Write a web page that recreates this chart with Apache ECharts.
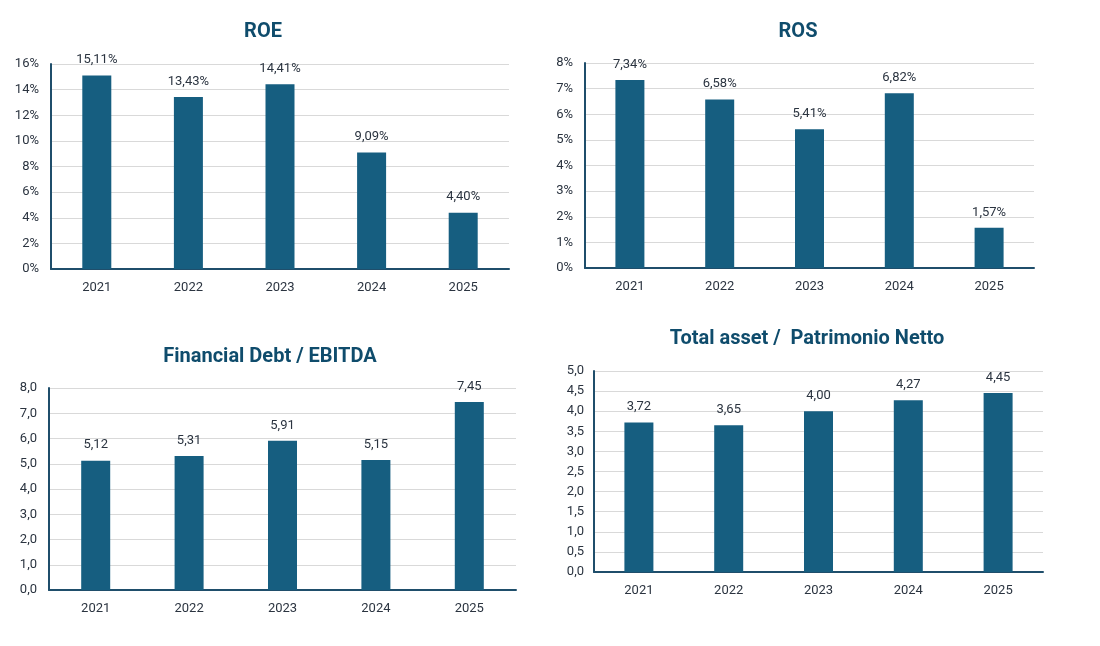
<!DOCTYPE html>
<html>
<head>
<meta charset="utf-8">
<script src="https://cdn.jsdelivr.net/npm/echarts@6/dist/echarts.min.js"></script>
<style>html,body{margin:0;padding:0;background:#fff;}#c{width:1100px;height:646px;}</style>
</head>
<body>
<div id="c"></div>
<script>
const years = ['2021', '2022', '2023', '2024', '2025'];
const roe = [15.11, 13.43, 14.41, 9.09, 4.40];
const ros = [7.34, 6.58, 5.41, 6.82, 1.57];
const debtEbitda = [5.12, 5.31, 5.91, 5.15, 7.45];
const assetEquity = [3.72, 3.65, 4.00, 4.27, 4.45];
const titles = ['ROE', 'ROS', 'Financial Debt / EBITDA', 'Total asset /  Patrimonio Netto'];

const FONT = '"Liberation Sans Narrow", "Roboto", sans-serif';
const BAR = '#165e80';
const AXIS = '#1f4e6b';
const TXT = '#2b3440';
const comma = (v, d) => v.toFixed(d).replace('.', ',');

const grids = [
  {left: 51, top: 64, width: 458, height: 205},
  {left: 585, top: 63, width: 449, height: 205},
  {left: 49, top: 388, width: 467, height: 202},
  {left: 594, top: 371, width: 449, height: 201}
];
const yCfg = [
  {max: 16, interval: 2, fmt: v => v + '%', margin: 12},
  {max: 8, interval: 1, fmt: v => v + '%', margin: 12},
  {max: 8, interval: 1, fmt: v => comma(v, 1), margin: 12},
  {max: 5, interval: 0.5, fmt: v => comma(v, 1), margin: 10}
];
const dataSets = [roe, ros, debtEbitda, assetEquity];
const labFmt = [v => comma(v, 2) + '%', v => comma(v, 2) + '%', v => comma(v, 2), v => comma(v, 2)];
const titlePos = [[258, 17], [793, 17], [265, 342], [802, 324]];

const option = {
  animation: false,
  backgroundColor: '#fff',
  title: titles.map((t, i) => ({
    text: t, left: titlePos[i][0], top: titlePos[i][1], textAlign: 'center',
    textStyle: {fontFamily: FONT, fontSize: 20, fontWeight: 'bold', color: '#0f4c6c'}
  })),
  grid: grids,
  xAxis: grids.map((g, i) => ({
    type: 'category', gridIndex: i, data: years,
    axisLine: {show: true, lineStyle: {color: AXIS, width: 2}},
    axisTick: {show: false},
    axisLabel: {fontFamily: FONT, fontSize: 13, color: TXT, margin: 12}
  })),
  yAxis: grids.map((g, i) => ({
    type: 'value', gridIndex: i, min: 0, max: yCfg[i].max, interval: yCfg[i].interval,
    axisLine: {show: true, lineStyle: {color: AXIS, width: 2}},
    axisTick: {show: false},
    splitLine: {lineStyle: {color: '#d9d9d9', width: 1}},
    axisLabel: {fontFamily: FONT, fontSize: 13, color: TXT, margin: yCfg[i].margin, formatter: yCfg[i].fmt}
  })),
  series: dataSets.map((d, i) => ({
    type: 'bar', xAxisIndex: i, yAxisIndex: i, data: d, barWidth: 29,
    itemStyle: {color: BAR},
    label: {show: true, position: 'top', distance: 9, fontFamily: FONT, fontSize: 13, color: TXT,
      formatter: p => labFmt[i](p.value)}
  }))
};
echarts.init(document.getElementById('c')).setOption(option);
</script>
</body>
</html>
